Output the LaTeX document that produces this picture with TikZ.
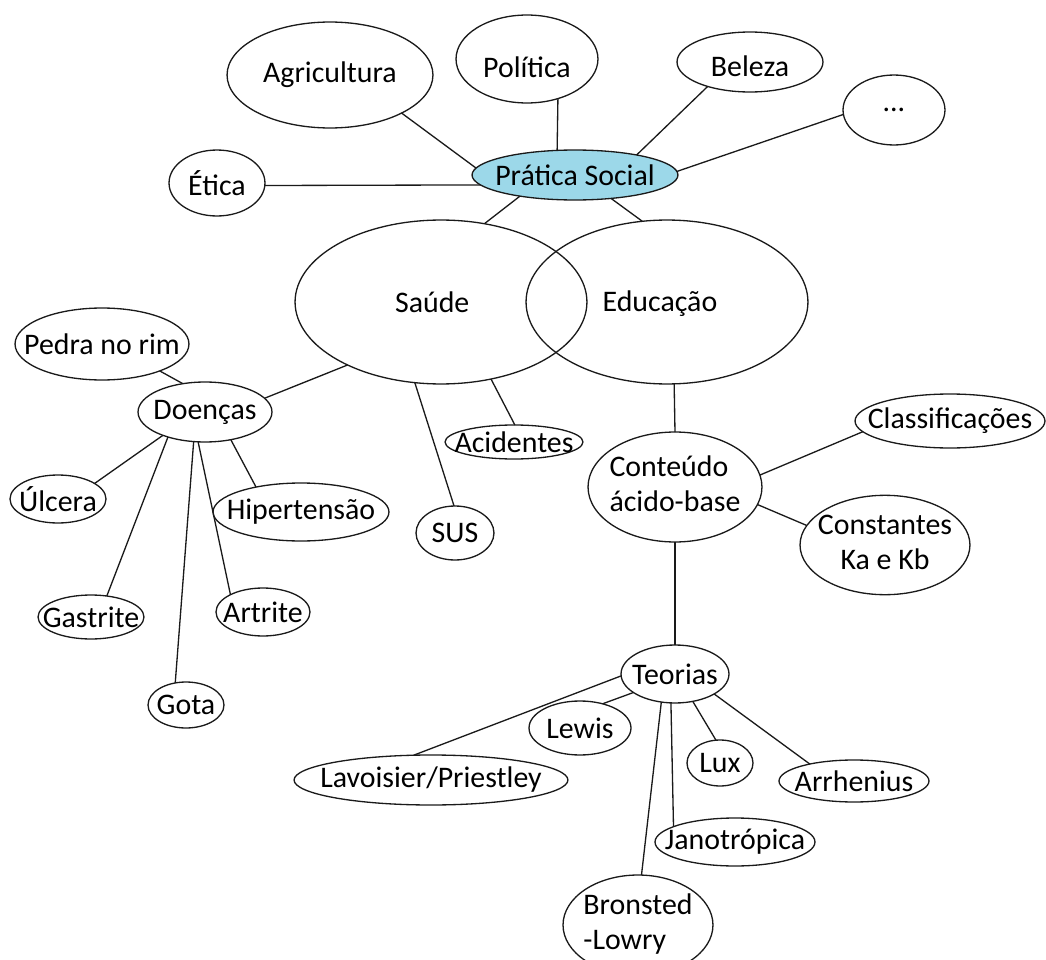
\documentclass[tikz,border=0pt]{standalone}
\usepackage{fontspec}
\setmainfont{Carlito}
\usetikzlibrary{shapes.geometric}
\definecolor{socialblue}{HTML}{9CD8E9}
\definecolor{linegray}{HTML}{1A1A1A}
\newcommand{\bubtxt}[1]{\makebox[0pt]{#1}}
\newcommand{\bubrows}[2]{\makebox[0pt]{\begin{tabular}{@{}#1@{}}#2\end{tabular}}}
% text moved by dx (right) and dy (up) inside its bubble
\newcommand{\bubshift}[3]{\makebox[0pt]{\raisebox{#2}[\height][\depth]{\hspace*{#1}#3\hspace*{-#1}}}}

\begin{document}
\begin{tikzpicture}[
    x=0.02cm, y=-0.02cm,
    font=\fontsize{17}{20}\selectfont,
    bubble/.style 2 args={ellipse, draw=linegray, line width=0.75pt,
        inner sep=0pt, outer sep=0pt, minimum width=#1*0.04cm, minimum height=#2*0.04cm},
    link/.style={draw=linegray, line width=0.75pt},
]
\useasboundingbox (0,0) rectangle (1046,960);
\clip (0,0) rectangle (1046,960);

% Pratica social and its themes
\node[bubble={103}{25}, fill=socialblue] (pra) at (575,175) {\bubtxt{Prática Social}};
\node[bubble={103}{53}] (agr) at (330,75) {\bubtxt{Agricultura}};
\node[bubble={71}{44}] (pol) at (527,59) {\bubshift{0pt}{-4.5pt}{Política}};
\node[bubble={73}{30}] (bel) at (750,62) {\bubshift{0pt}{-2.5pt}{Beleza}};
\node[bubble={51}{35}] (etc) at (894,110) {\bubtxt{...}};
\node[bubble={48}{33}] (eti) at (217,183) {\bubtxt{Ética}};

\draw[link] (agr.-28) -- (pra.176);
\draw[link] (pol.-52) -- (pra.126);
\draw[link] (bel.-150) -- (pra.18);
\draw[link] (etc.185) -- (pra.2);
\draw[link] (eti.-3) -- (pra.186);

% Saude / Educacao
\node[bubble={146}{82}] (sau) at (441,302) {\bubshift{-5pt}{0pt}{Saúde}};
\node[bubble={141}{82}] (edu) at (667,302) {\bubshift{-4pt}{-1pt}{Educação}};

\draw[link] (pra.-159) -- (sau.61);
\draw[link] (pra.-33) -- (edu.107);

% Doencas branch
\node[bubble={67}{30}] (doe) at (205,412) {\bubtxt{Doenças}};
\node[bubble={87}{36}] (ped) at (102,344) {\bubtxt{Pedra no rim}};
\node[bubble={48}{24}] (ulc) at (58,499) {\bubtxt{Úlcera}};
\node[bubble={53}{22}] (gas) at (91,617) {\bubtxt{Gastrite}};
\node[bubble={38}{23}] (got) at (186,705) {\bubtxt{Gota}};
\node[bubble={47}{24}] (art) at (263,612) {\bubtxt{Artrite}};
\node[bubble={88}{29}] (hip) at (301,512) {\bubtxt{Hipertensão}};

\draw[link] (sau.214) -- (doe.13);
\draw[link] (ped.-25) -- (doe.128);
\draw[link] (doe.209) -- (ulc.23);
\draw[link] (doe.214) -- (gas.53);
\draw[link] (doe.-111) -- (got.116);
\draw[link] (doe.-103) -- (art.152);
\draw[link] (doe.-47) -- (hip.151);

% SUS and Acidentes
\node[bubble={39}{27}] (sus) at (455,533) {\bubtxt{SUS}};
\node[bubble={69}{17}] (aci) at (514,442) {\bubtxt{Acidentes}};

\draw[link] (sau.-108) -- (sus.92);
\draw[link] (sau.-57) -- (aci.87);

% Conteudo acido-base
\node[bubble={87}{55}] (con) at (675,487) {\bubrows{l}{Conteúdo\\ácido-base}};
\node[bubble={95}{27}] (cla) at (950,421) {\bubtxt{Classificações}};
\node[bubble={85}{47}] (cte) at (885,545) {\bubrows{c}{Constantes\\Ka e Kb}};

\draw[link] (edu.-85) -- (con.north);
\draw[link] (con.8) -- (cla.187);
\draw[link] (con.-12) -- (cte.166);

% Teorias
\node[bubble={54}{29}] (teo) at (675,674) {\bubtxt{Teorias}};
\node[bubble={137}{25}] (lav) at (431,780) {\bubtxt{Lavoisier/Priestley}};
\node[bubble={51}{27}] (lew) at (580,728) {\bubtxt{Lewis}};
\node[bubble={75}{50}] (bro) at (638,925) {\bubrows{l}{Bronsted\\-Lowry}};
\node[bubble={80}{24}] (jan) at (735,842) {\bubtxt{Janotrópica}};
\node[bubble={33}{23}] (lux) at (720,763) {\bubtxt{Lux}};
\node[bubble={75}{21}] (arr) at (854,781) {\bubtxt{Arrhenius}};

\draw[link] (con.south) -- (teo.north);
\draw[link] (teo.182) -- (lav.125);
\draw[link] (teo.204) -- (lew.47);
\draw[link] (teo.-116) -- (bro.86);
\draw[link] (teo.-98) -- (jan.166);
\draw[link] (teo.-57) -- (lux.100);
\draw[link] (teo.-27) -- (arr.159);

\end{tikzpicture}
\end{document}
